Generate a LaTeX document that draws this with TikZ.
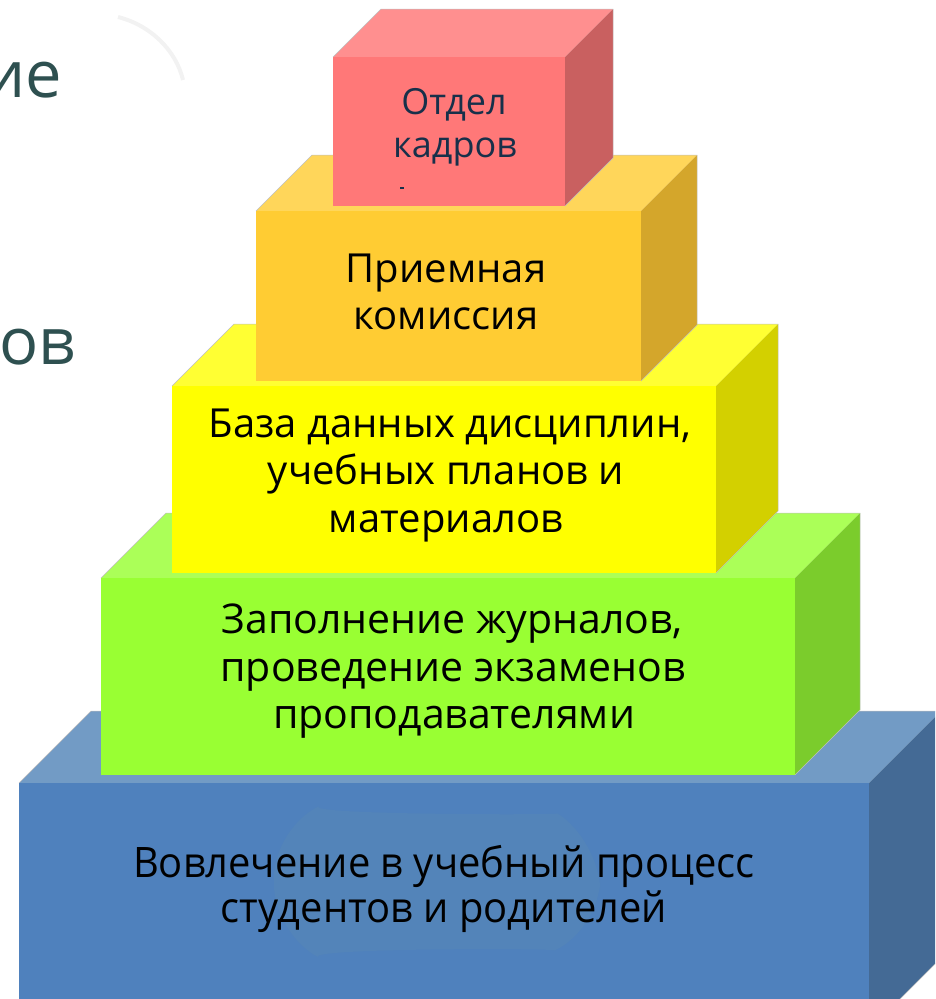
\documentclass[tikz,border=0pt]{standalone}
\usepackage{fontspec}
\setmainfont{Open Sans}
\usepackage{graphicx}
\definecolor{redfront}{HTML}{FF7878}
\definecolor{redtop}{HTML}{FF8F8F}
\definecolor{redside}{HTML}{C96060}
\definecolor{orfront}{HTML}{FFCC33}
\definecolor{ortop}{HTML}{FFD65A}
\definecolor{orside}{HTML}{D4A62B}
\definecolor{yefront}{HTML}{FFFF00}
\definecolor{yetop}{HTML}{FFFF33}
\definecolor{yeside}{HTML}{D3D000}
\definecolor{grfront}{HTML}{99FF33}
\definecolor{grtop}{HTML}{ABFF58}
\definecolor{grside}{HTML}{7BCC2C}
\definecolor{blfront}{HTML}{4F81BD}
\definecolor{bltop}{HTML}{729BC5}
\definecolor{blside}{HTML}{446A95}
\definecolor{blblob}{HTML}{5384B9}
\definecolor{navytext}{HTML}{17304A}
\definecolor{slidetext}{HTML}{2E5050}
% #1 left, #2 right, #3 top, #4 bottom, #5 depth, #6 colour prefix
\newcommand\mycube[6]{%
  \fill[#6top] (#1,#3) -- (#1+#5,#3-#5) -- (#2+#5,#3-#5) -- (#2,#3) -- cycle;
  \fill[#6side] (#2,#3) -- (#2+#5,#3-#5) -- (#2+#5,#4-#5) -- (#2,#4) -- cycle;
  \fill[#6front] (#1,#3) rectangle (#2,#4);
  \draw[edgeline] (#1,#3) -- (#1+#5,#3-#5) -- (#2+#5,#3-#5) -- (#2+#5,#4-#5) -- (#2,#4);
}
\begin{document}
\begin{tikzpicture}[x=1pt,y=-1pt,
  edgeline/.style={draw=black!25, line width=0.5pt},
  lbl/.style={anchor=base, inner sep=0pt, font=\fontsize{40}{48}\selectfont},
  grlbl/.style={lbl, font=\fontsize{41}{48}\selectfont},
  bllbl/.style={lbl, font=\fontsize{42}{48}\selectfont},
  redlbl/.style={lbl, text=navytext, font=\fontsize{36}{44}\selectfont},
  slidelbl/.style={anchor=base east, inner sep=0pt, text=slidetext, font=\fontsize{65}{70}\selectfont}]
\useasboundingbox (0,0) rectangle (935,999);
\clip (0,0) rectangle (935,999);
% faint shadow arc
\draw[black!5, line width=4pt] (118,17) .. controls (150,25) and (176,50) .. (183,80);
% slide text fragments
\node[slidelbl] (s1) at (62,97) {ие};
\node[slidelbl] (s2) at (76,364) {ов};
% cubes, bottom to top
\mycube{19}{869}{783}{1030}{72}{bl}
\fill[blblob, rounded corners=50pt] (274,827) .. controls (300,815) and (560,815) .. (600,840) -- (600,930) .. controls (560,948) and (300,948) .. (274,935) -- cycle;
\mycube{101}{795}{578}{775}{65}{gr}
\mycube{172}{716}{386}{573}{62}{ye}
\mycube{256}{641}{211}{381}{56}{or}
\mycube{333}{565}{57}{206}{48}{red}
% labels
\node[redlbl] (r1) at (454,114) {Отдел};
\node[redlbl] (r2) at (455,157) {кадров};
\draw[navytext, line width=1.2pt] (400,188) -- (404,188);
\node[lbl] (o1) at (446,282) {Приемная};
\node[lbl] (o2) at (446,329) {комиссия};
\node[lbl] (y1) at (450,437) {База данных дисциплин,};
\node[lbl] (y2) at (446,484) {учебных планов и};
\node[lbl] (y3) at (446,532) {материалов};
\node[grlbl] (g1) at (452,633) {Заполнение журналов,};
\node[grlbl] (g2) at (453,681) {проведение экзаменов};
\node[grlbl] (g3) at (454,728) {проподавателями};
\node[bllbl] (b1) at (444,877) {\scalebox{0.95}[1]{Вовлечение в учебный процесс}};
\node[bllbl] (b2) at (444,922) {\scalebox{0.95}[1]{студентов и родителей}};
\end{tikzpicture}
\end{document}
